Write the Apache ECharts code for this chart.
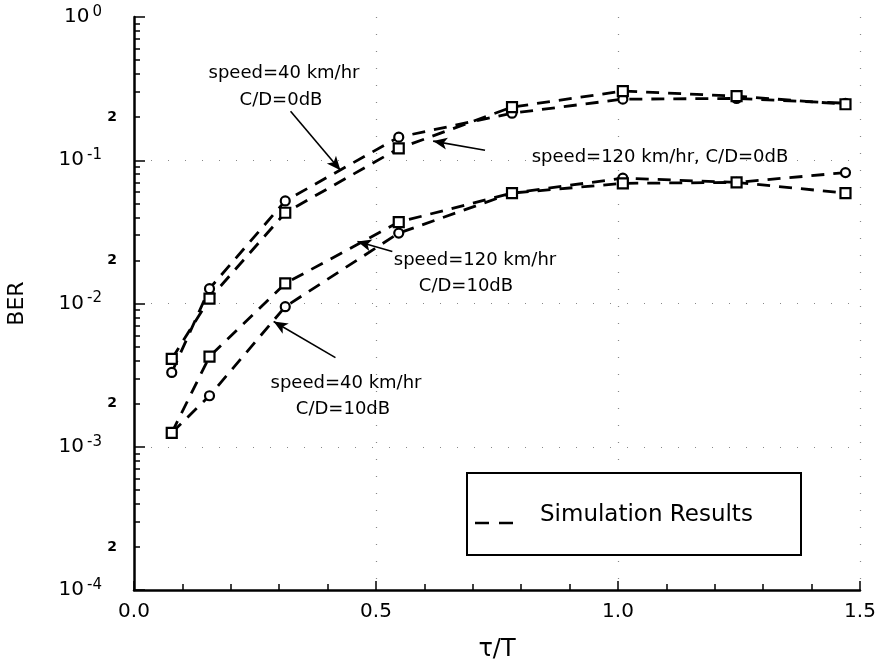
<!DOCTYPE html>
<html>
<head>
<meta charset="utf-8">
<script src="https://cdn.jsdelivr.net/npm/echarts@6/dist/echarts.min.js"></script>
<style>
  html, body { margin: 0; padding: 0; background: #fff; }
  #main { width: 877px; height: 668px; }
</style>
</head>
<body>
<div id="main"></div>
<script>
// tau/T sample points
const tau = [0.078, 0.156, 0.3125, 0.547, 0.781, 1.01, 1.245, 1.47]

// BER, C/D = 0dB
const ber40_0dB = [0.0033, 0.0127, 0.052, 0.145, 0.213, 0.267, 0.27, 0.25]
const ber120_0dB = [0.0041, 0.0108, 0.043, 0.121, 0.235, 0.304, 0.28, 0.246]
// BER, C/D = 10dB
const ber40_10dB = [0.00125, 0.00227, 0.0095, 0.031, 0.059, 0.075, 0.07, 0.082]
const ber120_10dB = [0.00125, 0.00426, 0.0138, 0.037, 0.059, 0.069, 0.07, 0.059]

const xTickLabels = ['0.0', '0.5', '1.0', '1.5']

// annotation arrows [tail, head] in data coordinates
const arrows = [
  [[0.3235, 0.220], [0.4265, 0.0851]],
  [[0.7253, 0.1175], [0.618, 0.136]],
  [[0.5337, 0.0231], [0.4616, 0.0271]],
  [[0.4162, 0.00419], [0.2885, 0.00748]]
]

const FONT = 'DejaVu Sans'

function pairs(ys) {
  return tau.map((t, i) => [t, ys[i]])
}

function makeSeries(name, ys, symbol) {
  return {
    name: name,
    type: 'line',
    data: pairs(ys),
    symbol: symbol,
    symbolSize: symbol === 'rect' ? 10 : 9,
    lineStyle: { color: '#000', width: 2.8, type: [13, 9] },
    itemStyle: { color: '#fff', borderColor: '#000', borderWidth: 2.2 },
    z: 3
  }
}

// minor ticks at 2..9 x 10^k, "2" labels at 2 x 10^k (in log10 units)
let minorTicks = []
let twoLabels = []
for (let k = -4; k < 0; k++) {
  for (let m = 2; m <= 9; m++) minorTicks.push(Math.log10(m) + k)
  twoLabels.push(Math.log10(2) + k)
}

var myChart = echarts.init(document.getElementById('main'))

var series = [
  makeSeries('40 km/hr, 0dB', ber40_0dB, 'circle'),
  makeSeries('120 km/hr, 0dB', ber120_0dB, 'rect'),
  makeSeries('40 km/hr, 10dB', ber40_10dB, 'circle'),
  makeSeries('120 km/hr, 10dB', ber120_10dB, 'rect')
]

// arrows drawn as markLine in data space
series.push({
  type: 'line',
  data: [],
  silent: true,
  markLine: {
    silent: true,
    symbol: ['none', 'arrow'],
    symbolSize: [9, 14],
    label: { show: false },
    lineStyle: { color: '#000', width: 1.6, type: 'solid' },
    data: arrows.map(a => [{ coord: a[0] }, { coord: a[1] }])
  }
})

var option = {
  animation: false,
  backgroundColor: '#fff',
  grid: { left: 134, right: 17, top: 17, bottom: 78, outerBoundsMode: 'none', containLabel: false },
  xAxis: {
    type: 'value',
    min: 0,
    max: 1.5,
    interval: 0.5,
    axisLine: { onZero: false, lineStyle: { color: '#000', width: 2.5 } },
    axisTick: { inside: true, length: 9, lineStyle: { color: '#000', width: 1.5 } },
    minorTick: { show: true, splitNumber: 5, length: 6, lineStyle: { color: '#000', width: 1.5 } },
    axisLabel: {
      color: '#000', fontFamily: FONT, fontSize: 20, margin: 12,
      formatter: v => xTickLabels[Math.round(v * 2)]
    },
    splitLine: { show: true, showMinLine: false, showMaxLine: true, lineStyle: { color: '#888', width: 1.2, type: [1, 16] } },
    name: 'τ/T',
    nameLocation: 'middle',
    nameGap: 48,
    nameTextStyle: { color: '#000', fontFamily: FONT, fontSize: 24 }
  },
  yAxis: [{
    type: 'log',
    logBase: 10,
    min: 1e-4,
    max: 1,
    position: 'left',
    axisLine: { show: true, onZero: false, lineStyle: { color: '#000', width: 2.5 } },
    axisTick: { inside: true, length: 11, lineStyle: { color: '#000', width: 1.5 } },
    axisLabel: {
      color: '#000', fontFamily: FONT, fontSize: 20, margin: 32,
      formatter: v => {
        const e = Math.round(Math.log10(v))
        return '{b|10}{e|' + (e === 0 ? '0' : '-' + Math.abs(e)) + '}'
      },
      rich: {
        b: { fontFamily: FONT, fontSize: 20, color: '#000' },
        e: { fontFamily: FONT, fontSize: 15, color: '#000', padding: [0, 0, 10, 3] }
      }
    },
    splitLine: { show: true, showMinLine: false, showMaxLine: false, lineStyle: { color: '#888', width: 1.2, type: [1, 16] } },
    name: 'BER',
    nameLocation: 'middle',
    nameGap: 106,
    nameRotate: 90,
    nameTextStyle: { color: '#000', fontFamily: FONT, fontSize: 22 }
  }, {
    type: 'value',
    min: -4,
    max: 0,
    position: 'left',
    offset: 0,
    axisLine: { show: false, onZero: false },
    axisTick: { show: true, inside: true, length: 6, customValues: minorTicks, lineStyle: { color: '#000', width: 1.5 } },
    axisLabel: {
      show: true, customValues: twoLabels, margin: 17,
      color: '#000', fontFamily: FONT, fontSize: 14, fontWeight: 'bold',
      formatter: () => '2'
    },
    splitLine: { show: false }
  }],
  series: series
}

myChart.setOption(option)

// text annotations + legend box
function txt(x, y, s, size) {
  return {
    type: 'text', x: x, y: y,
    style: { text: s, fill: '#000', font: (size || 18) + 'px "' + FONT + '"', textAlign: 'center', textVerticalAlign: 'middle' }
  }
}

myChart.setOption({
  graphic: [
    txt(284, 73, 'speed=40 km/hr'),
    txt(281, 100, 'C/D=0dB'),
    txt(660, 157, 'speed=120 km/hr, C/D=0dB'),
    txt(475, 260, 'speed=120 km/hr'),
    txt(466, 286, 'C/D=10dB'),
    txt(346, 383, 'speed=40 km/hr'),
    txt(343, 409, 'C/D=10dB'),
    {
      type: 'rect',
      shape: { x: 467, y: 473, width: 334, height: 82 },
      style: { fill: '#fff', stroke: '#000', lineWidth: 2 }
    },
    {
      type: 'line',
      shape: { x1: 475, y1: 523, x2: 522, y2: 523 },
      style: { stroke: '#000', lineWidth: 2.5, lineDash: [14, 10] }
    },
    {
      type: 'text', x: 540, y: 515,
      style: { text: 'Simulation Results', fill: '#000', font: '23px "' + FONT + '"', textAlign: 'left', textVerticalAlign: 'middle' }
    }
  ]
})
</script>
</body>
</html>
